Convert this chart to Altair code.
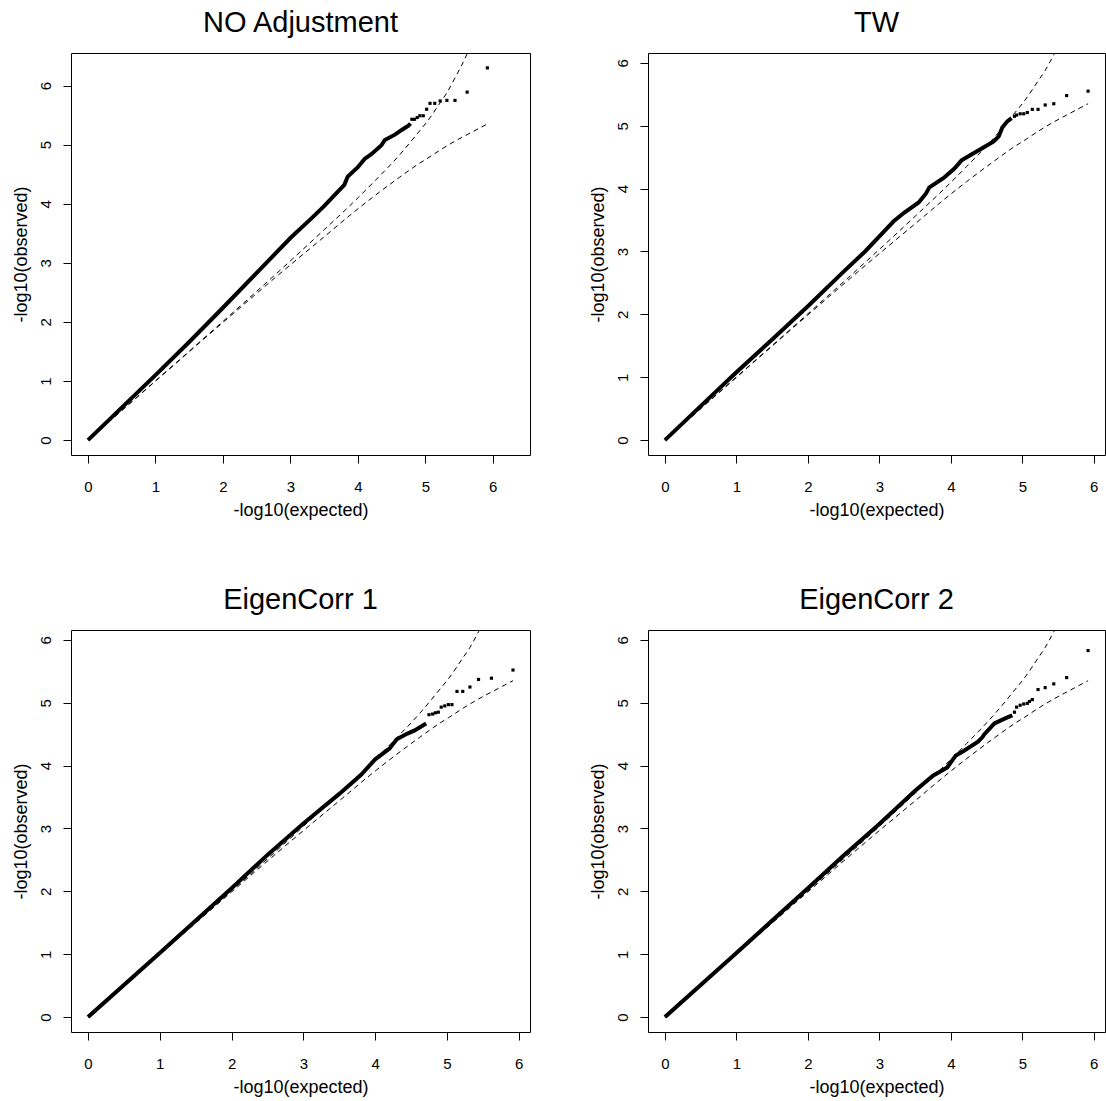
import altair as alt
import pandas as pd

# ---------------- data ----------------
titles = ["NO Adjustment", "TW", "EigenCorr 1", "EigenCorr 2"]
axis_limits = [6.3, 5.92, 5.92, 5.92]
tick_values = [0, 1, 2, 3, 4, 5, 6]

# dashed 95% bands
band_x = [0, 1, 2, 2.92, 3.5, 3.92, 4.22, 4.62, 4.92, 5.02, 5.22, 5.32, 5.44, 5.62, 5.92]
band_upper = [0, 1.003, 2.009, 2.95, 3.56, 4.01, 4.35, 4.83, 5.24, 5.38, 5.71, 5.88, 6.13, 6.54, 7.52]
band_lower = [0, 0.997, 1.991, 2.89, 3.44, 3.84, 4.11, 4.45, 4.69, 4.76, 4.91, 4.98, 5.06, 5.17, 5.35]

# panel 1: NO Adjustment
p1_line_x = [0, 0.5, 1, 1.5, 2, 2.5, 3, 3.3, 3.5, 3.7, 3.8, 3.85, 4.0, 4.1, 4.2, 4.35, 4.4, 4.55, 4.65, 4.75, 4.78]
p1_line_y = [0, 0.55, 1.1, 1.66, 2.24, 2.83, 3.42, 3.74, 3.96, 4.2, 4.32, 4.46, 4.62, 4.76, 4.84, 4.99, 5.08, 5.17, 5.25, 5.32, 5.36]
p1_tail_x = [4.80, 4.84, 4.88, 4.92, 4.97, 5.02, 5.07, 5.14, 5.22, 5.32, 5.44, 5.62, 5.92]
p1_tail_y = [5.43, 5.43, 5.46, 5.49, 5.49, 5.60, 5.70, 5.70, 5.74, 5.75, 5.75, 5.89, 6.30]

# panel 2: TW
p2_line_x = [0, 0.5, 1, 1.5, 2, 2.5, 2.8, 3.0, 3.2, 3.35, 3.55, 3.65, 3.7, 3.9, 4.05, 4.15, 4.3, 4.45, 4.6, 4.67, 4.72, 4.79, 4.85]
p2_line_y = [0, 0.54, 1.08, 1.6, 2.13, 2.68, 3.0, 3.24, 3.48, 3.62, 3.78, 3.92, 4.02, 4.17, 4.32, 4.45, 4.55, 4.65, 4.75, 4.83, 4.97, 5.07, 5.12]
p2_tail_x = [4.89, 4.92, 4.97, 5.02, 5.07, 5.14, 5.22, 5.32, 5.44, 5.62, 5.92]
p2_tail_y = [5.15, 5.17, 5.19, 5.19, 5.21, 5.26, 5.26, 5.33, 5.35, 5.48, 5.55]

# panel 3: EigenCorr 1
p3_line_x = [0, 1, 2, 2.5, 3, 3.5, 3.8, 4.0, 4.2, 4.3, 4.45, 4.55, 4.71]
p3_line_y = [0, 1.02, 2.05, 2.58, 3.08, 3.55, 3.85, 4.1, 4.27, 4.42, 4.51, 4.56, 4.67]
p3_tail_x = [4.75, 4.80, 4.84, 4.88, 4.92, 4.97, 5.02, 5.07, 5.14, 5.22, 5.32, 5.44, 5.62, 5.92]
p3_tail_y = [4.81, 4.82, 4.84, 4.85, 4.93, 4.95, 4.97, 4.97, 5.18, 5.18, 5.25, 5.37, 5.39, 5.52]

# panel 4: EigenCorr 2
p4_line_x = [0, 1, 2, 2.5, 3, 3.5, 3.75, 3.95, 4.03, 4.07, 4.19, 4.38, 4.44, 4.47, 4.52, 4.61, 4.7, 4.8, 4.86]
p4_line_y = [0, 1.02, 2.05, 2.57, 3.07, 3.6, 3.84, 3.97, 4.1, 4.16, 4.24, 4.38, 4.45, 4.5, 4.56, 4.67, 4.72, 4.77, 4.8]
p4_tail_x = [4.89, 4.92, 4.97, 5.02, 5.07, 5.10, 5.14, 5.22, 5.32, 5.44, 5.62, 5.92]
p4_tail_y = [4.85, 4.93, 4.96, 4.98, 4.99, 5.02, 5.05, 5.21, 5.24, 5.30, 5.40, 5.83]

lines = [(p1_line_x, p1_line_y), (p2_line_x, p2_line_y), (p3_line_x, p3_line_y), (p4_line_x, p4_line_y)]
tails = [(p1_tail_x, p1_tail_y), (p2_tail_x, p2_tail_y), (p3_tail_x, p3_tail_y), (p4_tail_x, p4_tail_y)]

FONT = "Liberation Sans"
widths = [459, 457, 459, 457]
HEIGHT = 402


def panel(i):
    w = widths[i]
    lim = axis_limits[i]
    dom = [-0.04 * lim, 1.04 * lim]
    xs = alt.Scale(domain=dom, nice=False, zero=False)
    ys = alt.Scale(domain=dom, nice=False, zero=False)

    xaxis = alt.Axis(
        values=tick_values, format="d", grid=False, domain=False,
        tickSize=8, tickColor="black", tickWidth=1,
        labelFont=FONT, labelFontSize=15, labelColor="black",
        labelBaseline="middle", labelPadding=23, labelFlush=False, labelOverlap=False,
        title="-log10(expected)", titleFont=FONT, titleFontSize=18,
        titleFontWeight="normal", titleColor="black",
        titleX=w / 2, titleY=55, titleAlign="center", titleBaseline="middle",
    )
    yaxis = alt.Axis(
        values=tick_values, format="d", grid=False, domain=False,
        tickSize=8, tickColor="black", tickWidth=1,
        labelFont=FONT, labelFontSize=15, labelColor="black",
        labelAngle=270, labelAlign="center", labelBaseline="middle",
        labelPadding=18, labelFlush=False, labelOverlap=False,
        title="-log10(observed)", titleFont=FONT, titleFontSize=18,
        titleFontWeight="normal", titleColor="black",
        titleAngle=270, titleX=-50, titleY=HEIGHT / 2,
        titleAlign="center", titleBaseline="middle",
    )

    band_df = pd.DataFrame({"x": band_x, "upper": band_upper, "lower": band_lower})
    lx, ly = lines[i]
    tx, ty = tails[i]
    line_df = pd.DataFrame({"x": lx, "y": ly})
    tail_df = pd.DataFrame({"x": tx, "y": ty})

    X = alt.X("x:Q", scale=xs, axis=xaxis)

    upper = alt.Chart(band_df).mark_line(
        color="black", strokeWidth=1, strokeDash=[5, 4], clip=True, interpolate="monotone"
    ).encode(x=X, y=alt.Y("upper:Q", scale=ys, axis=yaxis))
    lower = alt.Chart(band_df).mark_line(
        color="black", strokeWidth=1, strokeDash=[5, 4], clip=True, interpolate="monotone"
    ).encode(x=X, y=alt.Y("lower:Q", scale=ys, axis=yaxis))
    dense = alt.Chart(line_df).mark_line(
        color="black", strokeWidth=4, clip=True
    ).encode(x=X, y=alt.Y("y:Q", scale=ys, axis=yaxis))
    pts = alt.Chart(tail_df).mark_square(
        color="black", size=10, opacity=1, clip=True
    ).encode(x=X, y=alt.Y("y:Q", scale=ys, axis=yaxis))
    return alt.layer(upper, lower, dense, pts).properties(
        width=w, height=HEIGHT,
        title=alt.TitleParams(
            text=titles[i], font=FONT, fontSize=29, fontWeight="normal",
            color="black", anchor="middle", baseline="alphabetic", offset=-8,
        ),
    )


chart = alt.concat(
    *[panel(i) for i in range(4)],
    columns=2,
    spacing={"row": 175, "column": 118},
    bounds="flush",
).properties(
    padding={"left": 11, "top": 8, "right": 0, "bottom": 0},
    background="white",
).configure_view(
    stroke="black", strokeWidth=1
)

chart.save("out.html", embed_options={"renderer": "svg", "actions": False})
